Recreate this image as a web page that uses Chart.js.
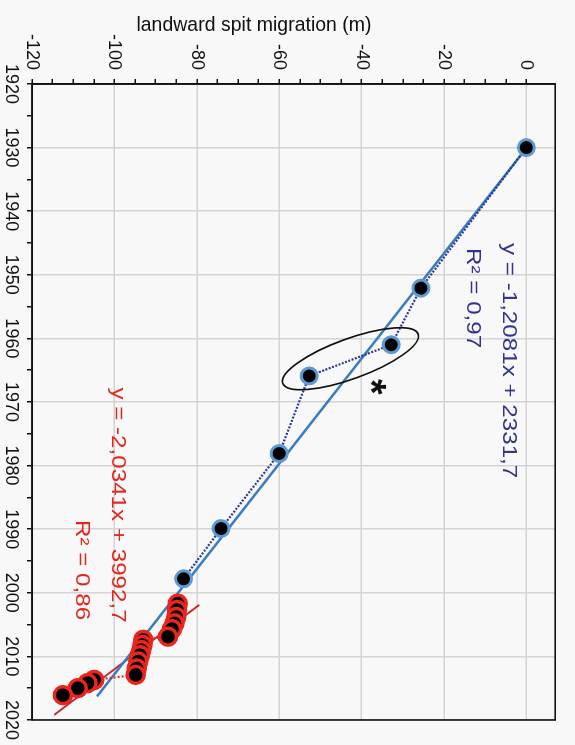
<!DOCTYPE html>
<html>
<head>
<meta charset="utf-8">
<script src="https://cdn.jsdelivr.net/npm/chart.js@4"></script>
<style>
html,body{margin:0;padding:0;background:#f8f8f8;overflow:hidden;width:575px;height:745px;}
#wrap{position:absolute;left:0;top:0;width:745px;height:575px;transform-origin:0 0;transform:translateX(575px) rotate(90deg);}
canvas{display:block;}
</style>
</head>
<body>
<div id="wrap"><canvas id="c" width="745" height="575"></canvas></div>
<script>
// ---- data ----
const blueYears = [1930, 1952.1, 1961.0, 1965.9, 1978.1, 1989.9, 1997.8];
const blueMigration = [0, -25.6, -32.8, -52.7, -60.0, -74.1, -83.2];

const redYears = [2001.7, 2002.7, 2003.8, 2004.8, 2005.7, 2006.9,
                  2007.4, 2008.2, 2009.0, 2009.8, 2010.8, 2011.9, 2012.9,
                  2013.7, 2014.2, 2015.0, 2016.1];
const redMigration = [-84.6, -84.8, -85.0, -85.4, -86.0, -87.0,
                      -93.0, -93.2, -93.5, -93.8, -94.2, -94.6, -94.8,
                      -104.9, -106.5, -108.9, -112.5];

const blueTrendYears = [1930, 2016.3];
const blueTrendMigration = [0.1, -104.2];
const redTrendYears = [2001.9, 2019.2];
const redTrendMigration = [-79.4, -114.6];

const yearLabels = [1920, 1930, 1940, 1950, 1960, 1970, 1980, 1990, 2000, 2010, 2020];
const migrationLabels = [-120, -100, -80, -60, -40, -20, 0];

const axisTitle = 'landward spit migration (m)';
const blueEquation = ['y = -1,2081x + 2331,7', 'R² = 0,97'];
const redEquation = ['y = -2,0341x + 3992,7', 'R² = 0,86'];

// ---- drawing ----
const FONT = '"Liberation Sans", Arial, Helvetica, sans-serif';
Chart.defaults.font.family = FONT;

const toXY = (xs, ys) => xs.map((v, i) => ({x: v, y: ys[i]}));

const overlay = {
  id: 'overlay',
  afterDatasetsDraw(chart) {
    const {ctx, chartArea: a, scales: {x, y}} = chart;
    ctx.save();
    // frame
    ctx.strokeStyle = '#111';
    ctx.lineWidth = 1.6;
    ctx.strokeRect(a.left, a.top, a.right - a.left, a.bottom - a.top);

    // ellipse around the 1961/1966 pair
    ctx.beginPath();
    ctx.ellipse(x.getPixelForValue(1963.2), y.getPixelForValue(-42.7), 72, 20, 70 * Math.PI / 180, 0, Math.PI * 2);
    ctx.lineWidth = 1.7;
    ctx.strokeStyle = '#111';
    ctx.stroke();

    // asterisk
    ctx.font = 'bold 40px ' + FONT;
    ctx.fillStyle = '#111';
    ctx.textAlign = 'center';
    ctx.textBaseline = 'alphabetic';
    const m = ctx.measureText('*');
    const ax = x.getPixelForValue(1967.6), ay = y.getPixelForValue(-36.0);
    ctx.fillText('*', ax, ay + (m.actualBoundingBoxAscent - m.actualBoundingBoxDescent) / 2);

    // equations
    const drawEq = (txt, xv, yv, align, color) => {
      ctx.save();
      ctx.translate(x.getPixelForValue(xv), y.getPixelForValue(yv));
      ctx.scale(1.24, 1);
      ctx.font = '19.5px ' + FONT;
      ctx.fillStyle = color;
      ctx.textAlign = align;
      ctx.textBaseline = 'middle';
      ctx.fillText(txt, 0, 0);
      ctx.restore();
    };
    drawEq(blueEquation[0], 1945.0, -4.45, 'left', '#33338f');
    drawEq(blueEquation[1], 1945.8, -13.1, 'left', '#33338f');
    drawEq(redEquation[0], 2004.7, -99.2, 'right', '#e3261c');
    drawEq(redEquation[1], 2004.3, -108.0, 'right', '#e3261c');

    // axis title
    ctx.save();
    ctx.translate(26, 321);
    ctx.rotate(-Math.PI / 2);
    ctx.font = '19.5px ' + FONT;
    ctx.fillStyle = '#111';
    ctx.textAlign = 'center';
    ctx.textBaseline = 'middle';
    ctx.fillText(axisTitle, 0, 0);
    ctx.restore();

    ctx.restore();
  }
};

new Chart(document.getElementById('c'), {
  type: 'scatter',
  data: {
    datasets: [
      {
        label: 'trend 1930-1998',
        data: toXY(blueTrendYears, blueTrendMigration),
        showLine: true, borderColor: '#3a7cc0', borderWidth: 2.5,
        pointRadius: 0, order: 3
      },
      {
        label: 'trend 2002-2016',
        data: toXY(redTrendYears, redTrendMigration),
        showLine: true, borderColor: '#c8232b', borderWidth: 2,
        pointRadius: 0, order: 3
      },
      {
        label: 'migration 1930-1998',
        data: toXY(blueYears, blueMigration),
        showLine: true, borderColor: '#2c3a8f', borderWidth: 2.2, borderDash: [2, 1.5],
        pointRadius: 8, pointBackgroundColor: '#000', pointBorderColor: '#5b9bd5', pointBorderWidth: 3,
        order: 1
      },
      {
        label: 'migration 2002-2016',
        data: toXY(redYears, redMigration),
        showLine: true, borderColor: '#d9302a', borderWidth: 2.2, borderDash: [2, 2],
        pointRadius: 8.5, pointBackgroundColor: '#000', pointBorderColor: '#e8261c', pointBorderWidth: 3.5,
        order: 1
      }
    ]
  },
  options: {
    responsive: false,
    animation: false,
    devicePixelRatio: 1,
    layout: {padding: {top: 11, right: 25, left: 0, bottom: 0}},
    plugins: {legend: {display: false}, tooltip: {enabled: false}},
    scales: {
      x: {
        type: 'linear', position: 'bottom', min: 1920, max: 2020,
        ticks: {
          stepSize: 5, autoSkip: false, maxRotation: 0, minRotation: 0, padding: 5,
          color: '#111', font: {size: 18},
          callback: v => yearLabels.includes(v) ? String(v) : ''
        },
        grid: {
          color: c => (c.tick && yearLabels.includes(c.tick.value)) ? '#d3d3d3' : 'rgba(0,0,0,0)',
          lineWidth: 1.5, tickLength: 5, tickColor: '#111', tickWidth: 1.5
        },
        border: {color: '#111', width: 1.6},
        afterFit: s => { s.height = 32; }
      },
      y: {
        type: 'linear', position: 'left', min: -120, max: 7,
        afterBuildTicks: s => { s.ticks = s.ticks.filter(t => t.value <= 0); },
        ticks: {
          stepSize: 5, autoSkip: false, padding: 9,
          color: '#111', font: {size: 18},
          callback: v => migrationLabels.includes(v) ? String(v) : ''
        },
        grid: {
          color: c => (c.tick && migrationLabels.includes(c.tick.value)) ? '#d3d3d3' : 'rgba(0,0,0,0)',
          lineWidth: 1.5, tickLength: 5, tickColor: '#111', tickWidth: 1.5
        },
        border: {color: '#111', width: 1.6},
        afterFit: s => { s.width = 84; }
      }
    }
  },
  plugins: [overlay]
});
</script>
</body>
</html>
